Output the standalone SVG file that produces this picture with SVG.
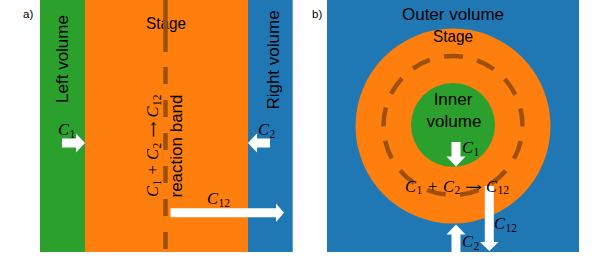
<svg xmlns="http://www.w3.org/2000/svg" width="598" height="259" viewBox="0 0 598 259">
<style>
.lbl{font-family:"Liberation Sans",Arial,sans-serif;font-size:17px;fill:#000}
.pl{font-family:"Liberation Sans",Arial,sans-serif;font-size:11.5px;fill:#000}
.m{font-family:"Liberation Serif","DejaVu Serif",serif;font-size:16.5px;fill:#000}
.mi{font-style:italic}
.sub{font-size:11.5px}
.arr{font-family:"DejaVu Serif","Liberation Serif",serif;font-size:15px}
.arrow{fill:#ffffff;stroke:none}
.dash{fill:none;stroke:#9c500c;stroke-width:4.5}
</style>
<rect width="598" height="259" fill="#ffffff"/>

<!-- Panel a -->
<text class="pl" x="23" y="17.5">a)</text>
<g id="left-volume">
  <rect x="40" y="0" width="45" height="252" fill="#2ca02c"/>
  <text class="lbl" text-anchor="middle" transform="translate(68,59) rotate(-90)">Left volume</text>
</g>
<g id="stage-a">
  <rect x="85" y="0" width="163" height="252" fill="#ff7f0e"/>
  <text class="lbl" x="166" y="29" text-anchor="middle" textLength="40" lengthAdjust="spacingAndGlyphs">Stage</text>
</g>
<g id="right-volume">
  <rect x="248" y="0" width="44.7" height="252" fill="#1f77b4"/>
  <text class="lbl" text-anchor="middle" transform="translate(279,60) rotate(-90)">Right volume</text>
</g>
<g id="reaction-band">
  <path class="dash" d="M165.5 0V52M165.5 67V84M165.5 100V117M165.5 133V150M165.5 166V183M165.5 199V216M165.5 232V249"/>
  <g transform="translate(158,197) rotate(-90)">
    <text class="m"><tspan class="mi" x="0" y="0">C</tspan><tspan class="sub" x="11.5" y="2.5">1</tspan><tspan x="22.5" y="0">+</tspan><tspan class="mi" x="37" y="0">C</tspan><tspan class="sub" x="48.5" y="2.5">2</tspan><tspan class="mi" x="79.5" y="0">C</tspan><tspan class="sub" x="91" y="2.5">12</tspan></text>
    <text class="arr" x="59" y="0" textLength="17" lengthAdjust="spacingAndGlyphs">→</text>
  </g>
  <text class="lbl" text-anchor="middle" transform="translate(182,146) rotate(-90)">reaction band</text>
</g>

<!-- Panel b -->
<text class="pl" x="312" y="17.5">b)</text>
<g id="outer-volume">
  <rect x="327" y="0" width="252" height="252" fill="#1f77b4"/>
  <text class="lbl" x="453" y="19.5" text-anchor="middle">Outer volume</text>
</g>
<g id="stage-b">
  <circle cx="453" cy="126" r="97.5" fill="#ff7f0e"/>
  <text class="lbl" x="453" y="42" text-anchor="middle" textLength="40" lengthAdjust="spacingAndGlyphs">Stage</text>
</g>
<g id="reaction-ring">
  <circle class="dash" cx="453" cy="125.5" r="69.5" stroke-dasharray="19 14.59" stroke-dashoffset="17.89"/>
</g>
<g id="inner-volume">
  <circle cx="453" cy="125" r="42" fill="#2ca02c"/>
  <text class="lbl" x="453" y="105" text-anchor="middle">Inner</text>
  <text class="lbl" x="454" y="126.5" text-anchor="middle">volume</text>
</g>

<!-- Connectors -->
<g id="connectors">
  <polygon class="arrow" points="62,138.5 76,138.5 76,133.5 85,143 76,152.5 76,147.5 62,147.5"/>
  <polygon class="arrow" points="270,138.5 257,138.5 257,133.5 248,143 257,152.5 257,147.5 270,147.5"/>
  <polygon class="arrow" points="170.5,208.3 276,208.3 276,203.5 284,212.8 276,222 276,217.3 170.5,217.3"/>
  <polygon class="arrow" points="451.5,142 460.5,142 460.5,156.5 465.5,156.5 456,166.5 446.5,156.5 451.5,156.5"/>
  <polygon class="arrow" points="484.8,186 493.8,186 493.8,242 498.5,242 489.3,251 480,242 484.8,242"/>
  <polygon class="arrow" points="451.5,252 451.5,234.5 446.5,234.5 456,224.5 465.5,234.5 460.5,234.5 460.5,252"/>
</g>

<!-- Labels -->
<g id="labels">
  <text class="m"><tspan class="mi" x="58" y="135">C</tspan><tspan class="sub" x="69.5" y="137.5">1</tspan></text>
  <text class="m"><tspan class="mi" x="258" y="135">C</tspan><tspan class="sub" x="269.5" y="137.5">2</tspan></text>
  <text class="m"><tspan class="mi" x="207" y="204">C</tspan><tspan class="sub" x="218.5" y="206.5">12</tspan></text>
  <text class="m"><tspan class="mi" x="462" y="153">C</tspan><tspan class="sub" x="473.5" y="155.5">1</tspan></text>
  <text class="m"><tspan class="mi" x="494" y="229">C</tspan><tspan class="sub" x="505.5" y="231.5">12</tspan></text>
  <text class="m"><tspan class="mi" x="462" y="247">C</tspan><tspan class="sub" x="473.5" y="249.5">2</tspan></text>
  <text class="m"><tspan class="mi" x="405" y="191.5">C</tspan><tspan class="sub" x="416.5" y="194">1</tspan><tspan x="428" y="191.5">+</tspan><tspan class="mi" x="443" y="191.5">C</tspan><tspan class="sub" x="454.5" y="194">2</tspan><tspan class="mi" x="486" y="191.5">C</tspan><tspan class="sub" x="497.5" y="194">12</tspan></text>
  <text class="arr" x="465" y="191.5" textLength="17" lengthAdjust="spacingAndGlyphs">→</text>
</g>
</svg>
